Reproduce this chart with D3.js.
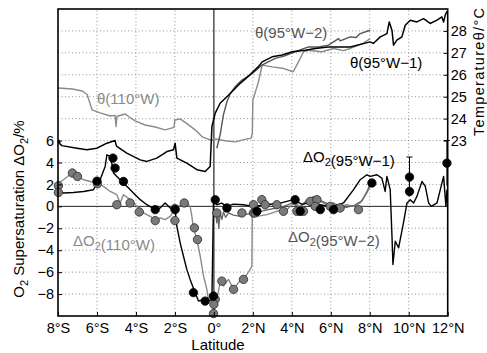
<!DOCTYPE html>
<html>
<head>
<meta charset="utf-8">
<script src="https://cdn.jsdelivr.net/npm/d3@7"></script>
<style>
  body { margin: 0; background: #fff; }
  svg { display: block; font-family: "Liberation Sans", Arial, sans-serif; }
</style>
</head>
<body>
<div id="chart"></div>
<script>
// latitude axis
const latTicks = [-8, -6, -4, -2, 0, 2, 4, 6, 8, 10, 12];
const latLabels = ['8°S', '6°S', '4°S', '2°S', '0°', '2°N', '4°N', '6°N', '8°N', '10°N', '12°N'];
// O2 supersaturation axis (left) and temperature axis (right)
const o2Ticks = [-8, -6, -4, -2, 0, 2, 4, 6];
const gridLevels = [-8, -6, -4, -2, 2, 4, 6, 8, 10, 12, 14, 16];
const tempTicks = [23, 24, 25, 26, 27, 28];

// potential temperature, [latitude, °C]
const theta110W = [[-7.98,25.40],[-7.26,25.35],[-6.76,25.26],[-6.50,25.10],[-6.45,24.94],[-6.25,24.40],[-5.84,24.26],
  [-5.32,24.12],[-5.07,24.15],[-5.02,23.64],[-4.98,24.10],[-4.91,24.12],[-4.55,24.21],[-4.30,24.05],[-4.04,23.90],
  [-3.53,23.71],[-3.01,23.62],[-2.50,23.49],[-2.05,23.60],[-2.00,23.94],[-1.73,23.99],[-1.37,23.76],[-0.96,23.49],
  [-0.60,23.17],[-0.19,23.03],[0.07,23.08],[0.58,22.99],[1.09,22.94],[1.71,23.08],[1.90,23.10],[1.97,23.30],
  [2.00,24.85],[2.27,25.62],[2.48,26.44],[2.99,26.36],[3.51,26.30],[4.07,26.14],[4.35,26.60],[4.60,27.05],
  [4.84,27.12],[5.54,27.05],[6.14,27.20],[6.65,27.10],[7.00,27.20],[7.66,27.43],[8.02,27.65]];
const theta95W2 = [[0.15,22.65],[0.32,23.26],[0.49,24.17],[0.67,24.77],[0.84,25.15],[1.09,25.45],[1.44,25.76],
  [1.97,26.06],[2.46,26.44],[3.15,26.75],[3.60,26.85],[4.17,27.05],[4.86,27.27],[5.37,27.27],[5.88,27.35],
  [6.40,27.65],[6.48,27.55],[7.00,27.73],[7.30,27.70],[7.51,27.88],[8.02,28.03]];
const theta95W1 = [[-7.98,22.88],[-7.94,23.00],[-7.90,22.85],[-7.80,22.77],[-7.03,22.65],[-6.52,22.58],[-6.01,22.65],
  [-5.49,22.88],[-5.07,23.00],[-5.02,22.80],[-4.98,22.73],[-4.47,22.43],[-3.78,22.12],[-3.44,22.05],[-2.93,22.20],
  [-2.41,22.50],[-2.07,22.58],[-1.99,22.88],[-1.90,22.20],[-1.39,21.97],[-0.87,21.67],[-0.45,21.59],[-0.19,21.82],
  [-0.10,23.64],[0.07,24.25],[0.32,24.70],[0.84,25.15],[1.35,25.61],[1.78,25.94],[2.27,26.36],[2.48,26.59],
  [2.99,26.82],[3.51,26.90],[4.02,27.05],[4.69,27.12],[5.20,27.20],[5.87,27.27],[6.74,27.27],[7.00,27.27],
  [8.02,27.50],[8.18,27.43],[8.54,27.73],[8.88,27.88],[9.00,28.41],[9.14,28.03],[9.22,27.35],[9.39,27.58],
  [9.65,27.73],[9.82,28.26],[10.08,28.49],[10.42,28.41],[10.76,28.56],[11.10,28.34],[11.45,28.49],[11.70,28.64],
  [11.79,28.41],[11.87,28.71],[11.96,28.90]];

// O2 supersaturation, [latitude, %]
const dO2_95W1 = [[-7.98,1.36],[-7.72,1.22],[-7.21,1.27],[-6.69,1.36],[-6.18,1.52],[-6.01,2.13],[-5.84,2.43],
  [-5.58,3.64],[-5.49,4.70],[-5.32,4.55],[-5.24,3.95],[-5.15,3.04],[-4.98,2.73],[-4.72,2.27],[-4.38,1.67],
  [-4.04,1.06],[-3.78,0.61],[-3.44,0.15],[-3.01,-0.30],[-2.76,-0.15],[-2.50,0.31],[-2.24,-0.15],[-1.99,-0.30],
  [-1.90,-1.82],[-1.73,-3.33],[-1.56,-4.55],[-1.39,-5.75],[-1.22,-6.66],[-0.96,-7.87],[-0.79,-8.64],[-0.53,-8.48],
  [-0.28,-8.64],[-0.10,-8.48],[-0.02,0.45],[0.15,0.15],[0.40,0.30],[0.67,0],[1.00,0.20],[1.52,0.15],[2.00,0],
  [2.72,0.15],[3.40,0.30],[4.09,0.61],[4.50,0.20],[4.94,0.31],[5.60,0.10],[6.14,0],[6.65,0.31],[7.17,1.52],
  [7.51,2.43],[7.85,2.88],[8.02,2.73],[8.37,2.88],[8.62,2.58],[8.79,1.36],[8.88,2.73],[9.05,1.52],[9.14,-2.73],
  [9.19,-5.30],[9.31,-3.18],[9.48,-3.78],[9.73,-1.51],[9.91,0.31],[10.08,0.61],[10.25,0.31],[10.42,0.91],
  [10.68,2.27],[10.85,1.82],[11.02,0.31],[11.16,0],[11.45,0.31],[11.62,1.52],[11.79,2.73],[11.91,0],[11.96,1.50]];
const dO2_110W = [[-7.98,2.13],[-7.72,2.43],[-7.39,2.88],[-7.21,3.04],[-6.95,2.73],[-6.69,2.43],[-6.35,2.27],
  [-6.01,2.13],[-5.67,1.82],[-5.32,1.36],[-4.98,1.06],[-4.81,0.31],[-4.64,1.06],[-4.30,0.61],[-3.95,0],
  [-3.61,-0.60],[-3.27,-0.91],[-3.01,-1.21],[-2.76,-1.05],[-2.50,-1.21],[-2.24,-0.91],[-2.07,-0.45],[-1.90,0],
  [-1.64,0.15],[-1.47,0.31],[-1.30,0.15],[-1.22,0],[-1.13,-0.91],[-1.05,-1.96],[-0.87,-3.03],[-0.70,-4.55],
  [-0.53,-6.36],[-0.36,-7.57],[-0.28,-8.48],[-0.19,-8.18],[-0.10,-8.64],[0.15,-8.48],[0.32,-6.96],[0.49,-7.27],
  [0.75,-6.66],[1.01,-7.57],[1.26,-6.96],[1.52,-6.66],[1.86,-5.75],[1.95,-5.45],[1.97,-0.60],[2.21,-0.91],
  [2.72,-0.75],[3.23,-0.45],[3.75,-0.30],[4.09,0.31],[4.43,0],[4.77,0.45],[5.11,0.91],[5.46,0.45],[5.80,0.15],
  [6.14,0.31],[6.48,0],[6.83,0.15],[7.17,0],[7.51,0.31],[7.85,1.22],[8.02,1.82]];
const dO2_95W2 = [[0.07,-0.30],[0.15,-1.50],[0.20,-0.50],[0.25,-2.00],[0.32,-0.60],[0.41,-1.20],[0.49,-0.50],
  [0.60,-1.00],[0.75,-0.60],[1.00,-0.80],[1.30,-0.90],[1.60,-0.75],[2.00,-0.60],[2.40,-0.45],[2.80,-0.30],
  [3.20,-0.15],[3.60,0],[4.00,0.30],[4.40,-0.10],[4.80,0.60],[5.20,0.90],[5.50,0.50],[5.90,0.20],[6.30,0.10],
  [6.80,-0.10],[7.20,0.10],[7.60,0.50],[7.90,1.50],[8.00,2.10]];

// discrete bottle samples
const bottle95W1 = [[-6.00,2.30],[-5.18,4.40],[-5.07,3.49],[-4.64,2.27],[-3.01,-0.30],[-1.99,-0.30],[-1.05,-7.87],
  [-0.45,-8.64],[-0.02,-8.18],[0.07,0.60],[0.67,-0.15],[2.21,-0.45],[4.17,0.61],[4.43,-0.45],[5.46,-0.30],
  [6.14,-0.30],[8.11,2.13],[10.04,2.67],[10.04,1.36],[11.96,3.94]];
const bottleGray = [[-7.98,1.88],[-7.98,1.27],[-7.26,3.04],[-7.00,2.73],[-5.98,2.06],[-4.98,0.15],[-4.30,0.31],
  [-3.83,-0.51],[-3.01,-1.30],[-2.00,-0.20],[-2.00,-1.30],[-1.52,0.31],[-1.00,-1.96],[-0.84,-3.03],[0.07,-8.48],
  [0.00,-8.94],[-0.02,-9.78],[0.15,-0.60],[0.41,-6.82],[1.01,-7.57],[1.52,-6.66],[2.03,0.15],[2.03,-0.60],
  [2.12,-0.60],[2.46,0.61],[2.63,0.15],[3.23,0.15],[3.57,-0.45],[4.26,-0.45],[4.60,-0.45],[4.94,0.45],
  [5.29,0.61],[5.20,0],[5.97,0],[6.48,-0.15],[7.42,-0.30],[1.44,-0.60]];
// [latitude, low, high]
const errBars = [[10.04, 0.9, 4.5], [11.96, 1.9, 6.0]];

const W = 487, H = 353;
const svg = d3.select('#chart').append('svg').attr('width', W).attr('height', H);

const x = d3.scaleLinear().domain([-8, 12]).range([58, 447.7]);
const y = d3.scaleLinear().domain([-10, 18]).range([316, 9]);
const yT = d3.scaleLinear().domain([15, 29]).range([316, 9]);

// grid
const grid = svg.append('g').attr('stroke', '#777').attr('stroke-width', 0.8).attr('stroke-dasharray', '1,2.5');
grid.selectAll('.gx').data(latTicks.filter(d => d > -8 && d < 12 && d !== 0)).enter().append('line')
  .attr('x1', d => x(d)).attr('x2', d => x(d)).attr('y1', y(-10)).attr('y2', y(18));
grid.selectAll('.gy').data(gridLevels).enter().append('line')
  .attr('y1', d => y(d)).attr('y2', d => y(d)).attr('x1', x(-8)).attr('x2', x(12));

// zero lines
svg.append('line').attr('x1', x(-8)).attr('x2', x(12)).attr('y1', y(0)).attr('y2', y(0))
  .attr('stroke', '#222').attr('stroke-width', 1);
svg.append('line').attr('x1', x(0)).attr('x2', x(0)).attr('y1', y(-10)).attr('y2', y(18))
  .attr('stroke', '#222').attr('stroke-width', 1.2);

const lineO2 = d3.line().x(d => x(d[0])).y(d => y(d[1]));
const lineT = d3.line().x(d => x(d[0])).y(d => yT(d[1]));

function drawLine(data, gen, color, w) {
  svg.append('path').datum(data).attr('d', gen).attr('fill', 'none')
    .attr('stroke', color).attr('stroke-width', w).attr('stroke-linejoin', 'round');
}

drawLine(theta110W, lineT, '#8a8a8a', 1.4);
drawLine(dO2_110W, lineO2, '#8a8a8a', 1.4);
drawLine(theta95W2, lineT, '#555', 1.4);
drawLine(dO2_95W2, lineO2, '#666', 1.3);
drawLine(theta95W1, lineT, '#000', 1.5);
drawLine(dO2_95W1, lineO2, '#000', 1.4);

// error bars
const eb = svg.append('g').attr('stroke', '#000').attr('stroke-width', 1);
eb.selectAll('.v').data(errBars).enter().append('line')
  .attr('x1', d => x(d[0])).attr('x2', d => x(d[0])).attr('y1', d => y(d[1])).attr('y2', d => y(d[2]));
eb.selectAll('.c').data(errBars).enter().append('line')
  .attr('x1', d => x(d[0]) - 3).attr('x2', d => x(d[0]) + 3).attr('y1', d => y(d[2])).attr('y2', d => y(d[2]));

// bottle samples
svg.append('g').selectAll('circle').data(bottleGray).enter().append('circle')
  .attr('cx', d => x(d[0])).attr('cy', d => y(d[1])).attr('r', 4.2)
  .attr('fill', '#7a7a7a').attr('stroke', '#2a2a2a').attr('stroke-width', 0.8);
svg.append('g').selectAll('circle').data(bottle95W1).enter().append('circle')
  .attr('cx', d => x(d[0])).attr('cy', d => y(d[1])).attr('r', 4.2)
  .attr('fill', '#000').attr('stroke', '#000').attr('stroke-width', 0.8);

// axes
const axL = svg.append('g').attr('transform', `translate(${x(-8)},0)`)
  .call(d3.axisLeft(y).tickValues(o2Ticks).tickSizeInner(-4).tickSizeOuter(0).tickPadding(4));
const axR = svg.append('g').attr('transform', `translate(${x(12)},0)`)
  .call(d3.axisRight(yT).tickValues(tempTicks).tickFormat(d3.format('d')).tickSizeInner(-4).tickSizeOuter(0).tickPadding(3));
const axB = svg.append('g').attr('transform', `translate(0,${y(-10)})`)
  .call(d3.axisBottom(x).tickValues(latTicks).tickFormat((d, i) => latLabels[i]).tickSizeInner(-4).tickSizeOuter(0).tickPadding(7));
[axL, axR, axB].forEach(a => {
  a.select('.domain').remove();
  a.selectAll('.tick line').attr('stroke', '#000');
  a.selectAll('.tick text').attr('fill', '#000').style('font-size', '14.5px')
    .style('font-family', '"Liberation Sans", Arial, sans-serif');
});

// box
svg.append('rect').attr('x', x(-8)).attr('y', y(18)).attr('width', x(12) - x(-8)).attr('height', y(-10) - y(18))
  .attr('fill', 'none').attr('stroke', '#000').attr('stroke-width', 1.6);

// axis titles
svg.append('text').attr('x', 218).attr('y', 350).attr('text-anchor', 'middle')
  .style('font-size', '15px').text('Latitude');

const yl = svg.append('text').attr('transform', 'translate(24,209) rotate(-90)')
  .attr('text-anchor', 'middle').style('font-size', '15px');
yl.append('tspan').text('O');
yl.append('tspan').attr('dy', 4).style('font-size', '11px').text('2');
yl.append('tspan').attr('dy', -4).text(' Supersaturation ΔO');
yl.append('tspan').attr('dy', 4).style('font-size', '11px').text('2');
yl.append('tspan').attr('dy', -4).text('/%');

svg.append('text').attr('transform', 'translate(483.5,72) rotate(-90)')
  .attr('text-anchor', 'middle').style('font-size', '14.5px')
  .attr('textLength', 128).attr('lengthAdjust', 'spacing').text('Temperatureθ/°C');

// annotations: plain strings, or {s: subscript}
function annotate(px, py, color, parts) {
  const t = svg.append('text').attr('x', px).attr('y', py).attr('fill', color).style('font-size', '15px');
  parts.forEach(p => {
    if (typeof p === 'string') {
      t.append('tspan').text(p);
    } else {
      t.append('tspan').attr('dy', 4).style('font-size', '11px').text(p.s);
      t.append('tspan').attr('dy', -4).text('');
    }
  });
}
annotate(97, 104, '#8a8a8a', ['θ(110°W)']);
annotate(255, 38, '#555', ['θ(95°W−2)']);
annotate(350, 68, '#000', ['θ(95°W−1)']);
annotate(303, 162, '#000', ['ΔO', { s: '2' }, '(95°W−1)']);
annotate(73, 246, '#8a8a8a', ['ΔO', { s: '2' }, '(110°W)']);
annotate(288, 242, '#555', ['ΔO', { s: '2' }, '(95°W−2)']);
</script>
</body>
</html>
